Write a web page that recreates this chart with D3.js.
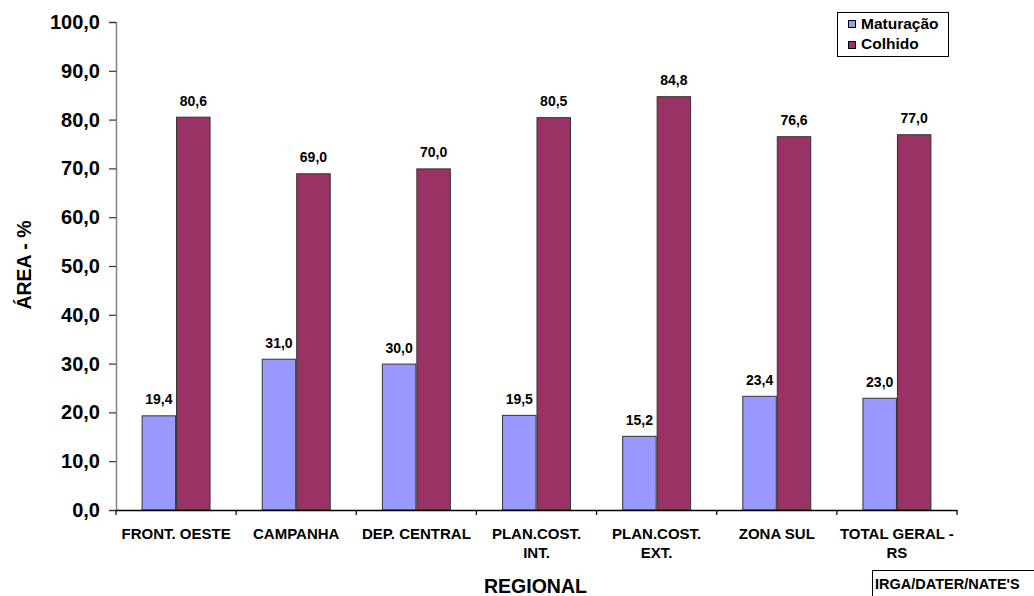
<!DOCTYPE html>
<html>
<head>
<meta charset="utf-8">
<script src="https://cdn.jsdelivr.net/npm/d3@7"></script>
<style>
  html, body { margin: 0; padding: 0; background: #fff; }
  svg { display: block; font-family: "Liberation Sans", Arial, sans-serif; }
</style>
</head>
<body>
<svg id="chart" width="1034" height="596"></svg>
<script>
const categories = ["FRONT. OESTE", "CAMPANHA", "DEP. CENTRAL", "PLAN.COST.\nINT.", "PLAN.COST.\nEXT.", "ZONA SUL", "TOTAL GERAL -\nRS"];
const seriesNames = ["Maturação", "Colhido"];
const maturacao = [19.4, 31.0, 30.0, 19.5, 15.2, 23.4, 23.0];
const colhido = [80.6, 69.0, 70.0, 80.5, 84.8, 76.6, 77.0];
const yTicks = [0, 10, 20, 30, 40, 50, 60, 70, 80, 90, 100];
const colors = ["#9999FF", "#993366"];

(function () {
const seriesValues = [maturacao, colhido];
const fmt = v => v.toFixed(1).replace(".", ",");

const svg = d3.select("#chart");
const pLeft = 116, pRight = 957, pTop = 22, pBottom = 510;

const x0 = d3.scaleBand().domain(categories).range([pLeft, pRight])
  .paddingInner(0.426).paddingOuter(0.213);
const x1 = d3.scaleBand().domain(seriesNames).range([0, x0.bandwidth()]);
const y = d3.scaleLinear().domain([0, 100]).range([pBottom, pTop]);

// Bars
const groups = svg.append("g").selectAll("g").data(categories).join("g")
  .attr("transform", c => `translate(${x0(c)},0)`);

groups.selectAll("rect")
  .data((c, i) => seriesNames.map((s, j) => ({ s, j, v: seriesValues[j][i] })))
  .join("rect")
  .attr("x", d => x1(d.s) + 0.5)
  .attr("y", d => y(d.v) + 0.5)
  .attr("width", x1.bandwidth() - 1)
  .attr("height", d => y(0) - y(d.v) - 0.5)
  .attr("fill", d => colors[d.j])
  .attr("stroke", "#333")
  .attr("stroke-width", 1);

groups.selectAll("text.val")
  .data((c, i) => seriesNames.map((s, j) => ({ s, j, v: seriesValues[j][i] })))
  .join("text")
  .attr("class", "val")
  .attr("x", d => x1(d.s) + x1.bandwidth() / 2)
  .attr("y", d => y(d.v) - 11)
  .attr("text-anchor", "middle")
  .attr("font-size", "14px")
  .attr("font-weight", "bold")
  .attr("fill", "#000")
  .text(d => fmt(d.v));

// Y axis
const yAxis = svg.append("g").attr("transform", `translate(${pLeft},0)`)
  .call(d3.axisLeft(y).tickValues(yTicks).tickFormat(fmt).tickSize(7).tickPadding(9));
yAxis.select(".domain").attr("stroke", "#808080").attr("stroke-width", 1.5);
yAxis.selectAll(".tick line").attr("stroke", "#333").attr("stroke-width", 1.2);
yAxis.selectAll(".tick text")
  .attr("font-size", "20px").attr("font-weight", "bold").attr("fill", "#000")
  .attr("font-family", "'Liberation Sans', Arial, sans-serif");

// X axis
const xAxis = svg.append("g").attr("transform", `translate(0,${pBottom})`)
  .call(d3.axisBottom(x0).tickSize(0).tickFormat(""));
xAxis.select(".domain").attr("stroke", "#000").attr("stroke-width", 1.5);
const step = x0.step();
const boundaries = categories.map(c => x0(c) - (step - x0.bandwidth()) / 2).concat([pRight]);
xAxis.selectAll("line.bt").data(boundaries).join("line")
  .attr("class", "bt")
  .attr("x1", d => d).attr("x2", d => d)
  .attr("y1", 0).attr("y2", 5)
  .attr("stroke", "#000").attr("stroke-width", 1.2);

const catLabels = svg.append("g").selectAll("text").data(categories).join("text")
  .attr("x", c => x0(c) + x0.bandwidth() / 2)
  .attr("y", 539)
  .attr("text-anchor", "middle")
  .attr("font-size", "15px")
  .attr("font-weight", "bold")
  .attr("fill", "#000");
catLabels.selectAll("tspan").data(c => c.split("\n")).join("tspan")
  .attr("x", function () { return d3.select(this.parentNode).attr("x"); })
  .attr("dy", (d, i) => i === 0 ? 0 : 19)
  .text(d => d);

// Axis titles
svg.append("text")
  .attr("x", 535.5).attr("y", 593)
  .attr("text-anchor", "middle")
  .attr("font-size", "19.5px").attr("font-weight", "bold")
  .text("REGIONAL");

svg.append("text")
  .attr("transform", "translate(31,265) rotate(-90)")
  .attr("text-anchor", "middle")
  .attr("font-size", "19.5px").attr("font-weight", "bold")
  .text("ÁREA - %");

// Legend
const legend = svg.append("g");
legend.append("rect")
  .attr("x", 837.5).attr("y", 12.5).attr("width", 111).attr("height", 44)
  .attr("fill", "#fff").attr("stroke", "#000").attr("stroke-width", 1);
seriesNames.forEach((s, j) => {
  legend.append("rect")
    .attr("x", 848.5).attr("y", 20.5 + j * 21).attr("width", 7).attr("height", 7)
    .attr("fill", colors[j]).attr("stroke", "#000").attr("stroke-width", 1);
  legend.append("text")
    .attr("x", 861).attr("y", 29 + j * 20)
    .attr("font-size", "15.5px").attr("font-weight", "bold")
    .text(s);
});

// Source box
svg.append("rect")
  .attr("x", 872.5).attr("y", 570.5).attr("width", 170).attr("height", 40)
  .attr("fill", "#fff").attr("stroke", "#000").attr("stroke-width", 1);
svg.append("text")
  .attr("x", 875).attr("y", 589)
  .attr("font-size", "14.5px").attr("font-weight", "bold")
  .text("IRGA/DATER/NATE'S");
})();
</script>
</body>
</html>
